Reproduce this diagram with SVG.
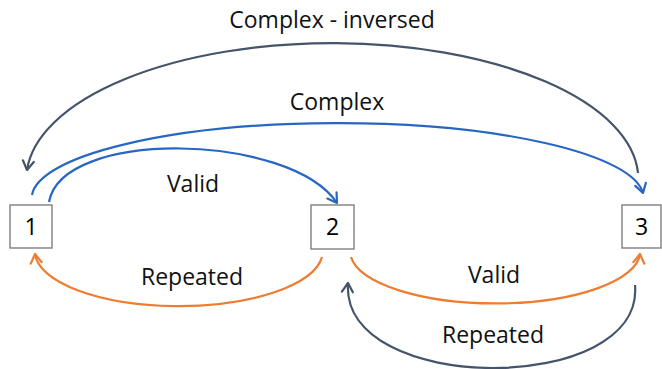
<svg xmlns="http://www.w3.org/2000/svg" width="662" height="369" viewBox="0 0 662 369">
  <style>
    .box { fill: #ffffff; stroke: #7f7f7f; stroke-width: 1.4; }
    .num { font-family: "Open Sans", "Liberation Sans", sans-serif; font-size: 23px; fill: #000; text-anchor: middle; }
    .lbl { font-family: "Open Sans", "Liberation Sans", sans-serif; font-size: 23px; fill: #111; text-anchor: middle; }
    .edge { fill: none; stroke-width: 2.2; }
    .navy { stroke: #44546a; }
    .blue { stroke: #2866c4; }
    .orange { stroke: #ed7d31; }
  </style>
  <defs>
    <marker id="arrow-navy" viewBox="-12 -8 16 16" refX="0" refY="0" markerWidth="16" markerHeight="16" markerUnits="userSpaceOnUse" orient="auto">
      <path d="M-9,-5.5 L0,0 L-9,5.5" fill="none" stroke="#44546a" stroke-width="2.2" stroke-linecap="round" stroke-linejoin="round"/>
    </marker>
    <marker id="arrow-blue" viewBox="-12 -8 16 16" refX="0" refY="0" markerWidth="16" markerHeight="16" markerUnits="userSpaceOnUse" orient="auto">
      <path d="M-9,-5.5 L0,0 L-9,5.5" fill="none" stroke="#2866c4" stroke-width="2.2" stroke-linecap="round" stroke-linejoin="round"/>
    </marker>
    <marker id="arrow-orange" viewBox="-12 -8 16 16" refX="0" refY="0" markerWidth="16" markerHeight="16" markerUnits="userSpaceOnUse" orient="auto">
      <path d="M-9,-5.5 L0,0 L-9,5.5" fill="none" stroke="#ed7d31" stroke-width="2.2" stroke-linecap="round" stroke-linejoin="round"/>
    </marker>
  </defs>

  <!-- connectors -->
  <g id="connectors">
    <!-- 3 -> 1, outer arc -->
    <path class="edge navy" d="M638,173 A306,136 0 0 0 27,170" marker-end="url(#arrow-navy)"/>
    <!-- 1 -> 3 -->
    <path class="edge blue" d="M32,195 A306,75 0 0 1 643,193" marker-end="url(#arrow-blue)"/>
    <!-- 1 -> 2 -->
    <path class="edge blue" d="M49,202 C62,128 290,133 337,203" marker-end="url(#arrow-blue)"/>
    <!-- 2 -> 1 -->
    <path class="edge orange" d="M322,257 A144,55 0 0 1 35,254" marker-end="url(#arrow-orange)"/>
    <!-- 2 -> 3 -->
    <path class="edge orange" d="M351,257 A145,52 0 0 0 640,254" marker-end="url(#arrow-orange)"/>
    <!-- 3 -> 2, lower arc -->
    <path class="edge navy" d="M635,285 C645,396 340,396 348,283" marker-end="url(#arrow-navy)"/>
  </g>

  <!-- edge labels -->
  <g id="labels">
    <text class="lbl" x="332" y="28">Complex - inversed</text>
    <text class="lbl" x="337" y="110">Complex</text>
    <text class="lbl" x="193" y="192">Valid</text>
    <text class="lbl" x="192" y="285">Repeated</text>
    <text class="lbl" x="494" y="283">Valid</text>
    <text class="lbl" x="493" y="343">Repeated</text>
  </g>

  <!-- nodes -->
  <g id="node-1">
    <rect class="box" x="10" y="205" width="42" height="43"/>
    <text class="num" x="31" y="235">1</text>
  </g>
  <g id="node-2">
    <rect class="box" x="311" y="205" width="43" height="44"/>
    <text class="num" x="332.5" y="235">2</text>
  </g>
  <g id="node-3">
    <rect class="box" x="622" y="205" width="39" height="43"/>
    <text class="num" x="641.5" y="235">3</text>
  </g>
</svg>
